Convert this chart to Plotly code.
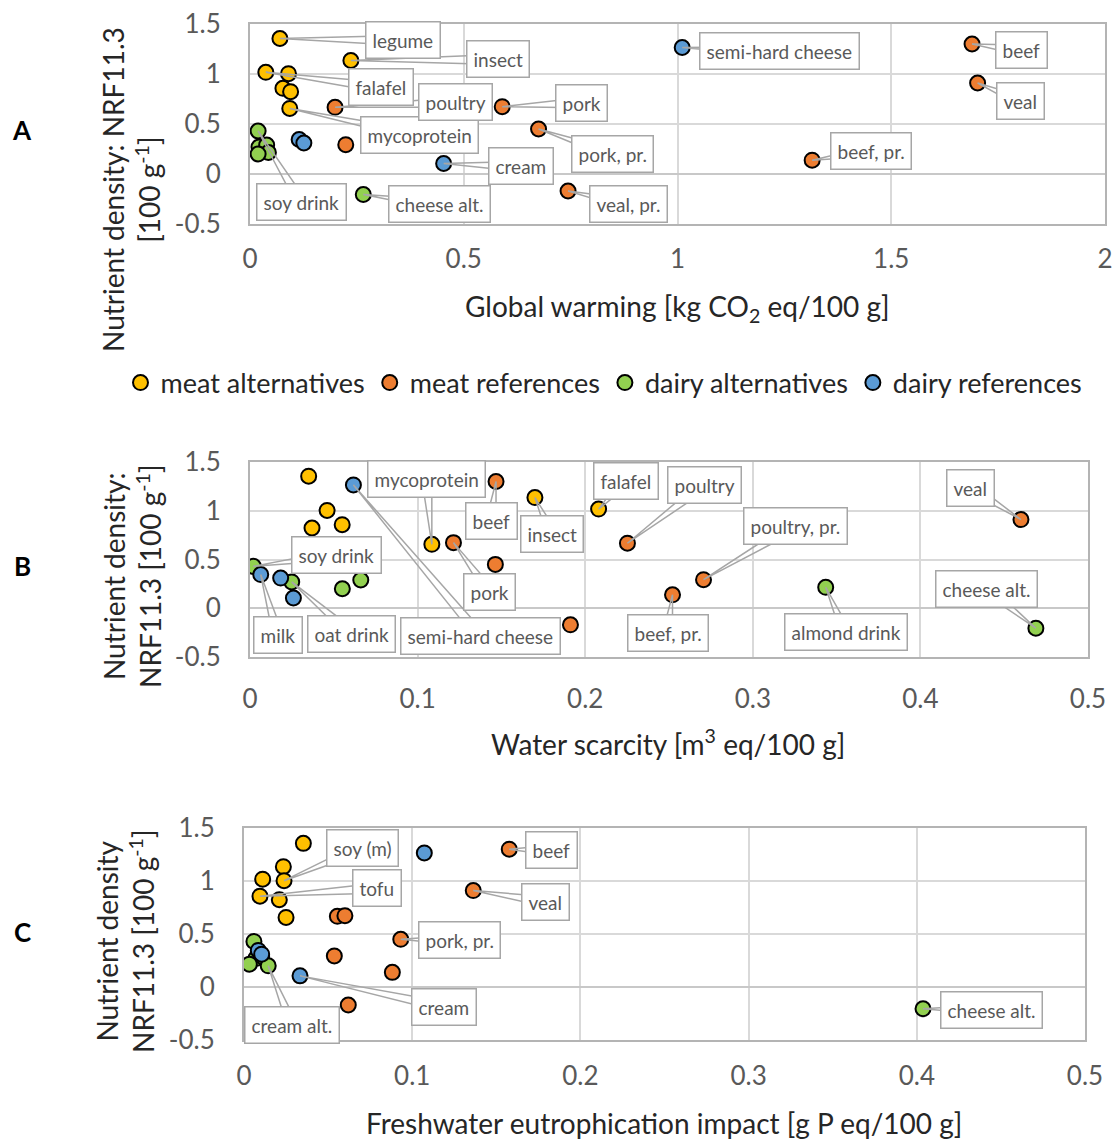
import math
import plotly.graph_objects as go

FIG_W, FIG_H = 1115, 1140
OFF = 0  # page body margin removed below

# ---------------- data ----------------
CATEGORIES = ["meat alternatives", "meat references", "dairy alternatives", "dairy references"]

meat_alt_names = ["legume", "insect", "falafel", "soy (m)", "tofu", "seitan", "mycoprotein"]
meat_alt_nrf = [1.355, 1.135, 1.017, 1.003, 0.857, 0.823, 0.656]
meat_alt_gw = [0.070, 0.236, 0.037, 0.090, 0.077, 0.095, 0.093]
meat_alt_ws = [0.035, 0.170, 0.208, 0.046, 0.055, 0.037, 0.1085]
meat_alt_fe = [0.0353, 0.0234, 0.0111, 0.0238, 0.0095, 0.0210, 0.0250]

meat_ref_names = ["beef", "veal", "poultry", "pork", "pork, pr.", "poultry, pr.", "beef, pr.", "veal, pr."]
meat_ref_nrf = [1.30, 0.91, 0.667, 0.673, 0.45, 0.293, 0.138, -0.17]
meat_ref_gw = [1.689, 1.702, 0.199, 0.590, 0.675, 0.224, 1.315, 0.744]
meat_ref_ws = [0.1468, 0.4600, 0.2252, 0.1214, 0.1464, 0.2706, 0.2521, 0.1912]
meat_ref_fe = [0.1577, 0.1363, 0.0555, 0.0600, 0.0932, 0.0537, 0.0882, 0.0620]

dairy_alt_names = ["soy drink", "oat drink", "rice drink", "almond drink", "cream alt.", "cheese alt."]
dairy_alt_nrf = [0.43, 0.27, 0.29, 0.215, 0.20, -0.205]
dairy_alt_gw = [0.019, 0.021, 0.039, 0.043, 0.019, 0.265]
dairy_alt_ws = [0.002, 0.0249, 0.0661, 0.3435, 0.0551, 0.4689]
dairy_alt_fe = [0.0059, 0.0071, 0.0105, 0.0032, 0.0144, 0.4037]

dairy_ref_names = ["semi-hard cheese", "milk", "yogurt", "cream"]
dairy_ref_nrf = [1.265, 0.345, 0.31, 0.105]
dairy_ref_gw = [1.011, 0.115, 0.126, 0.453]
dairy_ref_ws = [0.0617, 0.0064, 0.0183, 0.0259]
dairy_ref_fe = [0.1072, 0.0085, 0.0105, 0.0333]

y_tick_vals = [-0.5, 0, 0.5, 1, 1.5]
y_tick_text = ["-0.5", "0", "0.5", "1", "1.5"]
xa_tick_vals = [0, 0.5, 1, 1.5, 2]
xa_tick_text = ["0", "0.5", "1", "1.5", "2"]
xb_tick_vals = [0, 0.1, 0.2, 0.3, 0.4, 0.5]
xb_tick_text = ["0", "0.1", "0.2", "0.3", "0.4", "0.5"]

# ---------------- style ----------------
COLORS = ["#FFC000", "#ED7D31", "#92D050", "#5B9BD5"]
FONT = "Lato"
GRID = "#d9d9d9"
FRAME = "#b4b4b4"
TICK_COL = "#595959"
LABEL_COL = "#595959"
BOX_COL = "#a6a6a6"

groups = [
    (CATEGORIES[0], meat_alt_names, meat_alt_nrf, {"A": meat_alt_gw, "B": meat_alt_ws, "C": meat_alt_fe}),
    (CATEGORIES[1], meat_ref_names, meat_ref_nrf, {"A": meat_ref_gw, "B": meat_ref_ws, "C": meat_ref_fe}),
    (CATEGORIES[2], dairy_alt_names, dairy_alt_nrf, {"A": dairy_alt_gw, "B": dairy_alt_ws, "C": dairy_alt_fe}),
    (CATEGORIES[3], dairy_ref_names, dairy_ref_nrf, {"A": dairy_ref_gw, "B": dairy_ref_ws, "C": dairy_ref_fe}),
]

def px(p):
    return (p - OFF) / FIG_W

def py(p):
    return 1 - (p - OFF) / FIG_H

# panel layout in (screen) pixels
panels = {
    "A": dict(ax="", xd=(250, 1105), yd=(24, 224), xr=[0, 2], xt=(xa_tick_vals, xa_tick_text), xs=11),
    "B": dict(ax="2", xd=(250, 1088), yd=(462, 657), xr=[0, 0.5], xt=(xb_tick_vals, xb_tick_text), xs=18),
    "C": dict(ax="3", xd=(244, 1085), yd=(828, 1040), xr=[0, 0.5], xt=(xb_tick_vals, xb_tick_text), xs=12),
}
Y_RANGE = [-0.5, 1.5]

# label box offsets (pixels, box centre relative to point)
label_offsets = {
    "A": {
        "legume": (123, 2), "insect": (147, -1), "falafel": (115, 15), "poultry": (120, -5),
        "mycoprotein": (130, 27), "pork": (79, -4), "pork, pr.": (74, 25), "cream": (77, 3),
        "veal, pr.": (60, 13), "cheese alt.": (76, 10), "soy drink": (43, 71),
        "semi-hard cheese": (97, 4), "beef": (49, 6), "veal": (43, 18), "beef, pr.": (59, -9),
    },
    "B": {
        "mycoprotein": (-5, -65), "beef": (-5, 39), "insect": (17, 36), "soy drink": (83, -11),
        "pork": (36, 49), "milk": (17, 60), "oat drink": (60, 52), "semi-hard cheese": (127, 151),
        "falafel": (27, -28), "poultry": (77, -58), "poultry, pr.": (92, -54), "beef, pr.": (-5, 38),
        "almond drink": (20, 45), "veal": (-50, -32), "cheese alt.": (-49, -39),
    },
    "C": {
        "soy (m)": (78, -33), "tofu": (117, -8), "pork, pr.": (59, 1), "cream": (144, 31),
        "cream alt.": (24, 59), "beef": (42, 1), "veal": (72, 11), "cheese alt.": (68, 1),
    },
}
WEDGE_HALF = 5  # px, half width of callout pointer near box centre

fig = go.Figure()
annotations = []
shapes = []

for key, p in panels.items():
    xa = "x" + p["ax"]
    ya = "y" + p["ax"]
    sx = (p["xr"][1] - p["xr"][0]) / (p["xd"][1] - p["xd"][0])
    sy = (Y_RANGE[1] - Y_RANGE[0]) / (p["yd"][1] - p["yd"][0])
    for gi, (cat, names, nrf, xs) in enumerate(groups):
        fig.add_trace(go.Scatter(
            x=xs[key], y=nrf, mode="markers", name=cat, text=names,
            xaxis=xa, yaxis=ya, showlegend=(key == "A"), legendgroup=cat,
            marker=dict(size=15, color=COLORS[gi], line=dict(color="#000000", width=2)),
            hovertemplate="%{text}<br>%{x}, %{y}<extra></extra>",
        ))
        for name, xv, yv in zip(names, xs[key], nrf):
            if name not in label_offsets[key]:
                continue
            dx, dy = label_offsets[key][name]
            ln = math.hypot(dx, dy)
            nx, ny = -dy / ln, dx / ln
            b1 = (xv + (dx + WEDGE_HALF * nx) * sx, yv - (dy + WEDGE_HALF * ny) * sy)
            b2 = (xv + (dx - WEDGE_HALF * nx) * sx, yv - (dy - WEDGE_HALF * ny) * sy)
            shapes.append(dict(
                type="path", xref=xa, yref=ya, layer="above",
                path=f"M {b1[0]},{b1[1]} L {xv},{yv} L {b2[0]},{b2[1]}",
                line=dict(color=BOX_COL, width=1.5),
            ))
            annotations.append(dict(
                x=xv + dx * sx, y=yv - dy * sy, xref=xa, yref=ya, text=name,
                showarrow=False, xanchor="center", yanchor="middle",
                bgcolor="white", bordercolor=BOX_COL, borderwidth=1.5, borderpad=6,
                font=dict(family=FONT, size=19, color=LABEL_COL),
            ))

layout_axes = {}
for key, p in panels.items():
    sfx = p["ax"]
    layout_axes["xaxis" + sfx] = dict(
        domain=[px(p["xd"][0]), px(p["xd"][1])], range=p["xr"], anchor="y" + sfx,
        tickvals=p["xt"][0], ticktext=p["xt"][1], showgrid=True, gridcolor=GRID, gridwidth=1.5,
        showline=True, linecolor=FRAME, linewidth=2, mirror=True, zeroline=False,
        automargin=False, ticklabeloverflow="allow",
        ticks="", ticklabelstandoff=p["xs"], tickfont=dict(family=FONT, size=26, color=TICK_COL),
    )
    layout_axes["yaxis" + sfx] = dict(
        domain=[py(p["yd"][1]), py(p["yd"][0])], range=Y_RANGE, anchor="x" + sfx,
        tickvals=y_tick_vals, ticktext=y_tick_text, showgrid=True, gridcolor=GRID, gridwidth=1.5,
        showline=True, linecolor=FRAME, linewidth=2, mirror=True,
        zeroline=True, zerolinecolor="#c8c8c8", zerolinewidth=1.5,
        automargin=False, ticklabeloverflow="allow",
        ticks="", ticklabelstandoff=22, tickfont=dict(family=FONT, size=26, color=TICK_COL),
    )

# axis titles & panel letters
TITLE_FONT = dict(family=FONT, size=28, color="#262626")
text_items = [
    ("Global warming [kg CO<sub>2</sub> eq/100 g]", 677, 308, 0),
    ("Water scarcity [m<sup>3</sup> eq/100 g]", 668, 742, 0),
    ("Freshwater eutrophication impact [g P eq/100 g]", 664, 1123, 0),
    ("Nutrient density: NRF11.3<br>[100 g<sup>-1</sup>]", 131, 190, -90),
    ("Nutrient density:<br>NRF11.3 [100 g<sup>-1</sup>]", 132, 576, -90),
    ("Nutrient density<br>NRF11.3 [100 g<sup>-1</sup>]", 125, 941, -90),
]
for txt, x, y, ang in text_items:
    annotations.append(dict(text=txt, x=px(x), y=py(y), xref="paper", yref="paper",
                            xanchor="center", yanchor="middle", showarrow=False,
                            textangle=ang, font=TITLE_FONT))
for letter, y in [("A", 130), ("B", 566), ("C", 932)]:
    annotations.append(dict(text="<b>" + letter + "</b>", x=px(22), y=py(y), xref="paper", yref="paper",
                            xanchor="center", yanchor="middle", showarrow=False,
                            font=dict(family=FONT, size=26, color="#000000")))

fig.update_layout(
    width=FIG_W, height=FIG_H, margin=dict(l=0, r=0, t=0, b=0, autoexpand=False),
    paper_bgcolor="white", plot_bgcolor="white",
    showlegend=True,
    legend=dict(orientation="h", x=px(604), y=py(383), xanchor="center", yanchor="middle",
                font=dict(family=FONT, size=27, color="#262626"), itemwidth=30,
                bgcolor="rgba(0,0,0,0)"),
    annotations=annotations,
    shapes=shapes,
    **layout_axes,
)

fig.write_html(
    "out.html",
    config={"displayModeBar": False},
    post_script="document.body.style.margin='0';document.body.style.overflow='hidden';",
)
